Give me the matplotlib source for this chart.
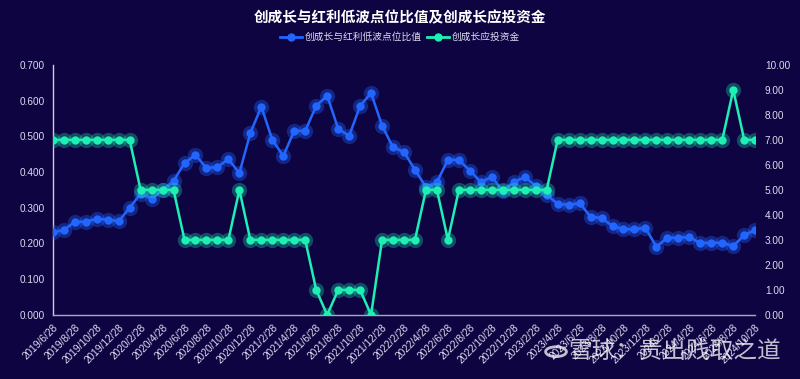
import matplotlib
matplotlib.use("Agg")
import matplotlib.pyplot as plt
import numpy as np
from matplotlib.lines import Line2D

plt.rcParams['font.family'] = ['Liberation Sans', 'Noto Sans CJK SC', 'DejaVu Sans']

# ---- data ----
months = []
for y in range(2019, 2025):
    for m in range(1, 13):
        if (y == 2019 and m < 6) or (y == 2024 and m > 10):
            continue
        months.append(f"{y}/{m}/28")

ratio = [0.231, 0.238, 0.260, 0.261, 0.269, 0.267, 0.262, 0.300, 0.339, 0.325,
         0.350, 0.375, 0.425, 0.448, 0.411, 0.414, 0.436, 0.397, 0.509, 0.583,
         0.490, 0.445, 0.515, 0.515, 0.585, 0.614, 0.521, 0.501, 0.585, 0.621,
         0.530, 0.469, 0.456, 0.406, 0.358, 0.372, 0.434, 0.434, 0.404, 0.372,
         0.386, 0.348, 0.372, 0.386, 0.361, 0.336, 0.311, 0.308, 0.313, 0.275,
         0.271, 0.249, 0.240, 0.240, 0.243, 0.191, 0.216, 0.216, 0.218, 0.201,
         0.202, 0.202, 0.193, 0.223, 0.238]

invest = [7, 7, 7, 7, 7, 7, 7, 7, 5, 5,
          5, 5, 3, 3, 3, 3, 3, 5, 3, 3,
          3, 3, 3, 3, 1, 0, 1, 1, 1, 0,
          3, 3, 3, 3, 5, 5, 3, 5, 5, 5,
          5, 5, 5, 5, 5, 5, 7, 7, 7, 7,
          7, 7, 7, 7, 7, 7, 7, 7, 7, 7,
          7, 7, 9, 7, 7]

left_ticks = [0.0, 0.1, 0.2, 0.3, 0.4, 0.5, 0.6, 0.7]
right_ticks = [0, 1, 2, 3, 4, 5, 6, 7, 8, 9, 10]

name1 = "创成长与红利低波点位比值"
name2 = "创成长应投资金"
title = "创成长与红利低波点位比值及创成长应投资金"

# ---- style ----
bg = '#0e0442'
blue = '#2266ff'
green = '#1ef0b4'
txt = '#dcdcf0'
cjk = ['Noto Sans CJK SC', 'DejaVu Sans']

fig = plt.figure(figsize=(8.0, 3.79), dpi=100, facecolor=bg)
ax = fig.add_axes([0.066, 0.169, 0.878, 0.660])
ax.set_facecolor(bg)
ax2 = ax.twinx()

x = np.arange(len(months))

# blue series (left axis)
ax.plot(x, ratio, color=blue, lw=1.8, zorder=3)
ax.plot(x, ratio, ls='none', marker='o', ms=11, color=blue, alpha=0.35, mec='none', zorder=3)
ax.plot(x, ratio, ls='none', marker='o', ms=6, color=blue, mec='none', zorder=4)

# green series (right axis)
ax2.plot(x, invest, color=green, lw=1.8, zorder=3)
ax2.plot(x, invest, ls='none', marker='o', ms=11, color=green, alpha=0.3, mec='none', zorder=3)
ax2.plot(x, invest, ls='none', marker='o', ms=6, color=green, mec='none', zorder=4)

ax.set_xlim(0, len(months) - 1)
ax.set_ylim(0, 0.7)
ax2.set_ylim(0, 10)

ax.set_yticks(left_ticks)
ax.set_yticklabels([f"{v:.3f}" for v in left_ticks])
ax2.set_yticks(right_ticks)
ax2.set_yticklabels([f"{v:.2f}" for v in right_ticks])

ax.set_xticks(x[::2])
ax.set_xticklabels(months[::2], rotation=45, ha='right', rotation_mode='anchor')

for a in (ax, ax2):
    a.tick_params(axis='both', length=0, colors=txt, labelsize=7.2)
    for s in a.spines.values():
        s.set_visible(False)
ax.tick_params(axis='x', labelsize=7.3, pad=5)
ax.tick_params(axis='y', pad=6)
ax2.tick_params(axis='y', pad=7)
ax.spines['left'].set_visible(True)
ax.spines['left'].set_color('#cfcfe0')
ax.spines['bottom'].set_visible(True)
ax.spines['bottom'].set_color('#a8a8c0')
ax.spines['left'].set_linewidth(1.0)
ax.spines['bottom'].set_linewidth(1.0)

# title
fig.text(0.5, 0.955, title, ha='center', va='center', color='white',
         fontsize=10.5, fontweight='bold', family=cjk)

# legend (manual handles)
h1 = Line2D([], [], color=blue, lw=2, marker='o', ms=5)
h2 = Line2D([], [], color=green, lw=2, marker='o', ms=5)
leg = fig.legend([h1, h2], [name1, name2], loc='center', bbox_to_anchor=(0.5, 0.902),
                 ncol=2, frameon=False, fontsize=7, labelcolor=txt,
                 handlelength=2.2, handletextpad=0.3, columnspacing=0.6,
                 prop={'family': cjk, 'size': 7})

# watermark
fig.text(0.71, 0.072, "雪球：贵出贱取之道", ha='left', va='center', color='white',
         alpha=0.75, fontsize=17, family=cjk)
circ = plt.Circle((0.695, 0.072), 0.013, transform=fig.transFigure, fill=False,
                  ec='white', alpha=0.75, lw=2)
fig.add_artist(circ)

fig.savefig('out.png', dpi=100, facecolor=bg)
